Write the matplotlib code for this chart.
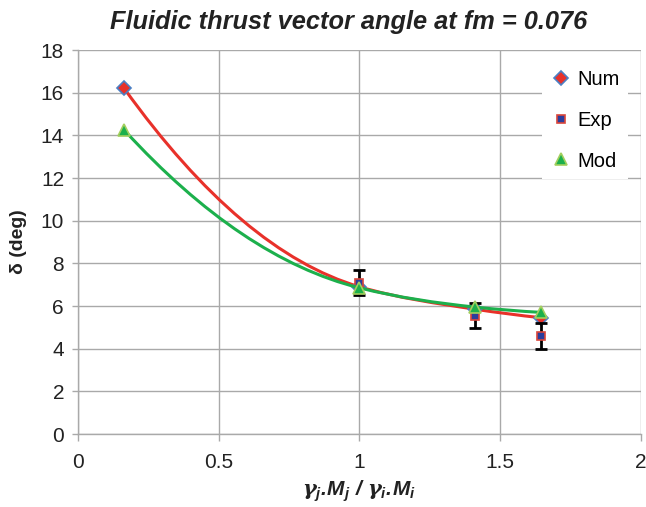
import numpy as np
import matplotlib
matplotlib.use("Agg")
import matplotlib.pyplot as plt
from matplotlib.path import Path
from matplotlib.patches import PathPatch
from matplotlib.lines import Line2D

plt.rcParams['font.family'] = ['Liberation Sans', 'DejaVu Sans']
plt.rcParams['mathtext.fontset'] = 'custom'
plt.rcParams['mathtext.rm'] = 'Liberation Sans:bold:italic'
plt.rcParams['mathtext.it'] = 'DejaVu Serif:bold:italic'
plt.rcParams['mathtext.bf'] = 'Liberation Sans:bold:italic'

# data
x_vals = [0.164, 1.0, 1.41, 1.646]
num_vals = [16.2, 6.9, 5.85, 5.45]
mod_vals = [14.25, 6.85, 5.95, 5.7]
exp_x = [1.0, 1.41, 1.646]
exp_vals = [7.1, 5.55, 4.6]
exp_err = [0.6, 0.6, 0.6]

x_ticks = [0, 0.5, 1, 1.5, 2]
y_ticks = list(range(0, 19, 2))

red = '#e8312a'
green = '#1cb04c'
grid_col = '#a9a9a9'


def smooth_path(xs, ys):
    # Excel-like smoothed line: cubic Hermite segments turned into Bezier curves
    xs = np.asarray(xs, float)
    ys = np.asarray(ys, float)
    h = np.diff(xs)
    d = np.diff(ys) / h
    n = len(xs)
    m = np.zeros(n)
    for k in range(1, n - 1):
        w1 = 2 * h[k] + h[k - 1]
        w2 = h[k] + 2 * h[k - 1]
        m[k] = (w1 + w2) / (w1 / d[k - 1] + w2 / d[k])
    m[0] = 2 * d[0] - m[1]
    m[-1] = 2 * d[-1] - m[-2]
    verts = [(xs[0], ys[0])]
    codes = [Path.MOVETO]
    for k in range(n - 1):
        verts += [(xs[k] + h[k] / 3, ys[k] + m[k] * h[k] / 3),
                  (xs[k + 1] - h[k] / 3, ys[k + 1] - m[k + 1] * h[k] / 3),
                  (xs[k + 1], ys[k + 1])]
        codes += [Path.CURVE4] * 3
    return Path(verts, codes)


fig = plt.figure(figsize=(6.46, 5.07), dpi=100)
ax = fig.add_axes([78 / 646, 73 / 507, 563 / 646, 384 / 507])

ax.set_xlim(0, 2)
ax.set_ylim(0, 18)
ax.set_xticks(x_ticks)
ax.set_xticklabels(['%g' % v for v in x_ticks])
ax.set_yticks(y_ticks)
ax.grid(True, color=grid_col, linewidth=1.0)
ax.set_axisbelow(True)
for s in ['top', 'right']:
    ax.spines[s].set_visible(False)
for s in ['left', 'bottom']:
    ax.spines[s].set_color(grid_col)
    ax.spines[s].set_linewidth(1.0)
ax.tick_params(axis='x', direction='out', length=5, width=1, color=grid_col,
               labelsize=15, labelcolor='#222222', pad=9)
ax.tick_params(axis='y', direction='out', length=4, width=1, color=grid_col,
               labelsize=15, labelcolor='#222222', pad=6)

# Num series
ax.add_patch(PathPatch(smooth_path(x_vals, num_vals), fill=False,
                       edgecolor=red, linewidth=2.2, zorder=3))
ax.plot(x_vals, num_vals, linestyle='none', marker='D', markersize=7,
        markerfacecolor=red, markeredgecolor='#4b7fc4', markeredgewidth=1.2, zorder=4)

# Exp series
ax.errorbar(exp_x, exp_vals, yerr=exp_err, fmt='none', ecolor='black',
            elinewidth=2, capsize=4, capthick=2, zorder=5)
ax.plot(exp_x, exp_vals, linestyle='none', marker='s', markersize=6,
        markerfacecolor='#2b3d9c', markeredgecolor='#d9463b', markeredgewidth=1.2, zorder=6)

# Mod series
ax.add_patch(PathPatch(smooth_path(x_vals, mod_vals), fill=False,
                       edgecolor=green, linewidth=2.2, zorder=7))
ax.plot(x_vals, mod_vals, linestyle='none', marker='^', markersize=9,
        markerfacecolor=green, markeredgecolor='#a3cf5e', markeredgewidth=1.2, zorder=8)

handles = [
    Line2D([], [], linestyle='none', marker='D', markersize=7, markerfacecolor=red,
           markeredgecolor='#4b7fc4', markeredgewidth=1.2),
    Line2D([], [], linestyle='none', marker='s', markersize=6, markerfacecolor='#2b3d9c',
           markeredgecolor='#d9463b', markeredgewidth=1.2),
    Line2D([], [], linestyle='none', marker='^', markersize=9, markerfacecolor=green,
           markeredgecolor='#a3cf5e', markeredgewidth=1.2),
]
leg = ax.legend(handles, ['Num', 'Exp', 'Mod'], loc='upper right',
                bbox_to_anchor=(0.995, 0.995), frameon=True, fancybox=False,
                edgecolor='none', facecolor='white', framealpha=1,
                fontsize=14.5, labelspacing=1.08, handlelength=1.0, handletextpad=0.35,
                borderpad=0.4)
leg.set_zorder(10)

fig.text(349 / 646, 1 - 22 / 507, 'Fluidic thrust vector angle at fm = 0.076',
         ha='center', va='center', fontsize=18.3, fontweight='bold', fontstyle='italic',
         color='#222222')
ax.set_ylabel('δ (deg)', fontsize=14, fontweight='bold', color='#222222', labelpad=10)
ax.set_xlabel(r'$\gamma_\mathrm{j}\mathrm{.\!M_j\;/\;}\gamma_\mathrm{i}\mathrm{.\!M_i}$',
              fontsize=15, color='#222222', labelpad=4)

fig.savefig('out.png', dpi=100)
